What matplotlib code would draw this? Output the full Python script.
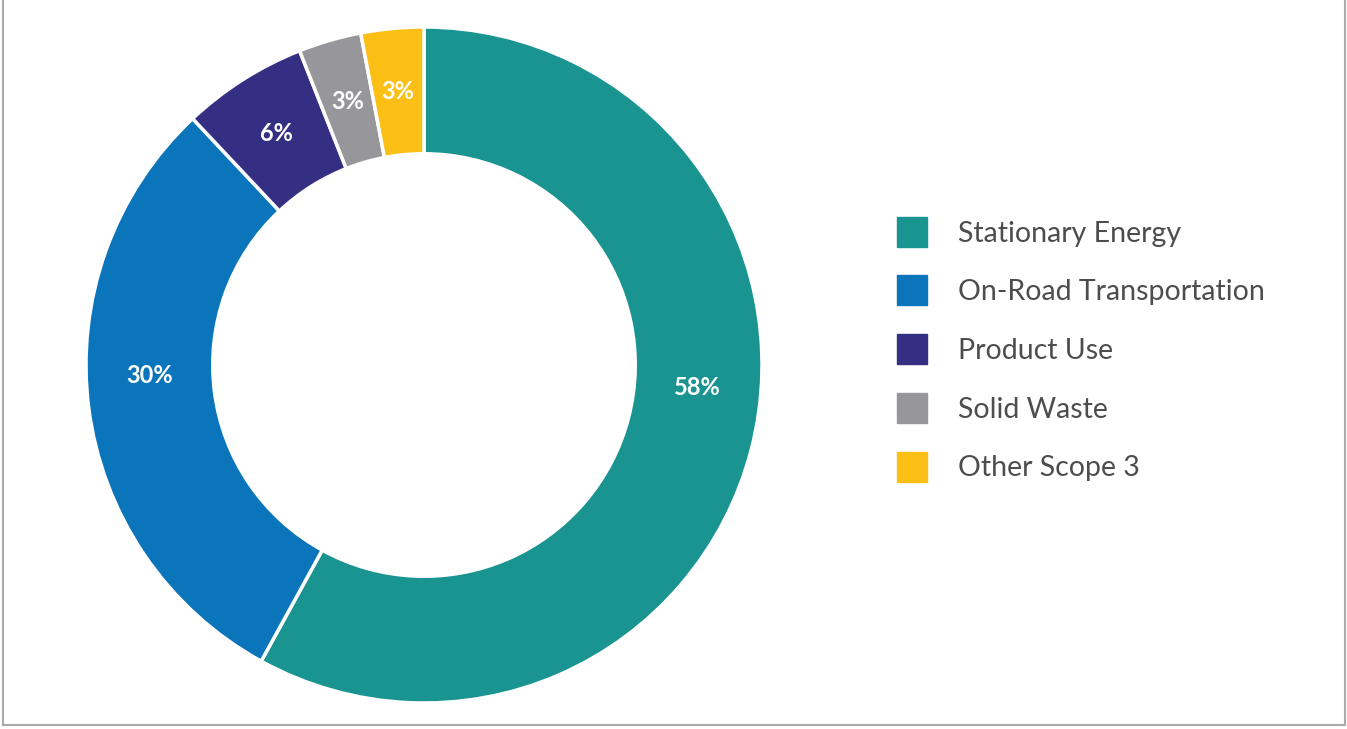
import matplotlib.pyplot as plt
from matplotlib.lines import Line2D
import numpy as np

# Dados do gráfico
categorias = ['Stationary Energy', 'On-Road Transportation', 'Product Use',
              'Solid Waste', 'Other Scope 3']
valores = [58, 30, 6, 3, 3]
rotulos = ['58%', '30%', '6%', '3%', '3%']
cores = ['#1A9490', '#0B75BC', '#352F84', '#97979B', '#FBBF15']

# pequeno ajuste de ângulo nos rótulos grandes (graus)
ajuste_angulo = [9.6, -5.0, 0, 0, 0]

plt.rcParams['font.family'] = ['Lato', 'DejaVu Sans']

fig = plt.figure(figsize=(13.47, 7.29), dpi=100)
W, H = 1347, 729

# eixo do donut, centro ~ (424, 365) px, raio ~338 px
cx, cy, R = 424, 365, 338
pad = 4
ax = fig.add_axes([(cx - R - pad) / W, (H - cy - R - pad) / H,
                   2 * (R + pad) / W, 2 * (R + pad) / H])

largura = 0.375
wedges, _ = ax.pie(valores, colors=cores, startangle=90, counterclock=False,
                   radius=1, wedgeprops=dict(width=largura, edgecolor='white', linewidth=2.5))

# limites depois do pie (o pie redefine os limites)
lim = (R + pad) / R
ax.set_xlim(-lim, lim)
ax.set_ylim(-lim, lim)
ax.set_aspect('equal')
ax.axis('off')

r_txt = 1 - largura / 2
for w, txt, aj in zip(wedges, rotulos, ajuste_angulo):
    ang = np.deg2rad((w.theta1 + w.theta2) / 2 + aj)
    ax.text(r_txt * np.cos(ang), r_txt * np.sin(ang), txt, color='white',
            fontsize=17, fontweight='bold', ha='center', va='center')

# legenda
handles = [Line2D([], [], marker='s', linestyle='none', markersize=21,
                  markerfacecolor=c, markeredgecolor=c) for c in cores]
leg = fig.legend(handles, categorias, loc='center left',
                 bbox_to_anchor=(897 / W, 1 - 351 / H), frameon=False,
                 fontsize=20.5, labelcolor='#4D4D4D', handlelength=1.05,
                 handletextpad=1.1, labelspacing=1.15, borderpad=0,
                 borderaxespad=0)

# moldura cinza (esquerda, direita, baixo)
cor_borda = '#AAAAAA'
fig.add_artist(Line2D([2.5 / W, 2.5 / W], [4 / H, 1], color=cor_borda, lw=1.5))
fig.add_artist(Line2D([1344.5 / W, 1344.5 / W], [4 / H, 1], color=cor_borda, lw=1.5))
fig.add_artist(Line2D([2.5 / W, 1344.5 / W], [4 / H, 4 / H], color=cor_borda, lw=1.5))

fig.savefig('out.png', dpi=100)
